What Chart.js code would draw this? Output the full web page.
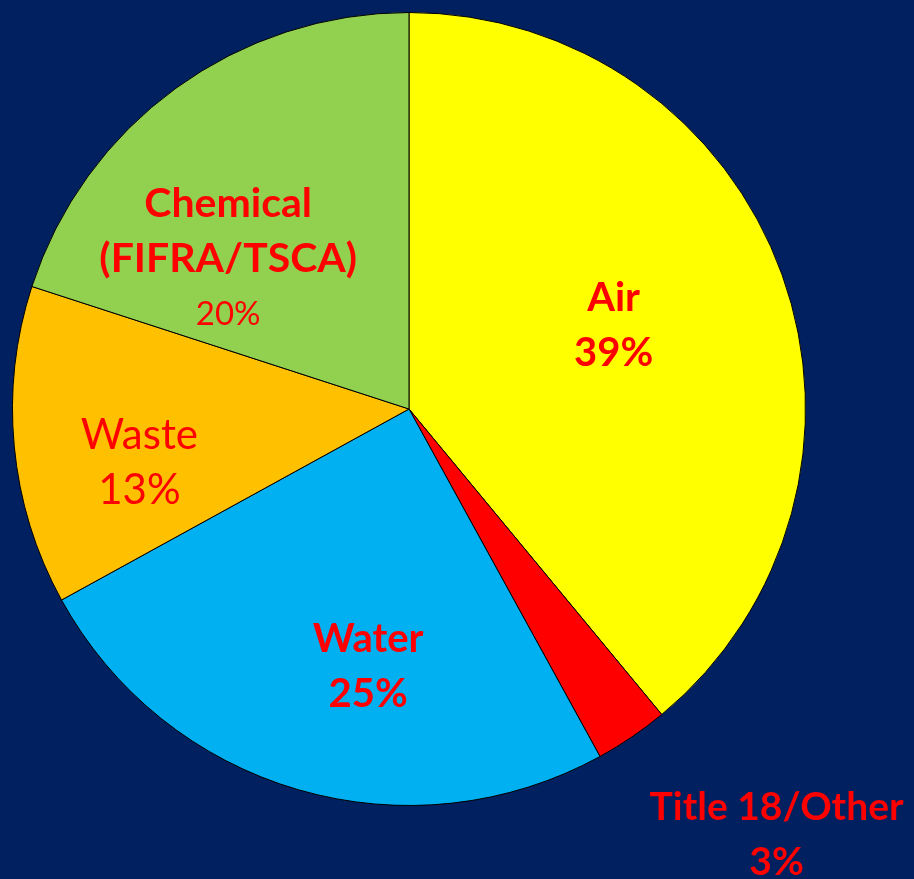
<!DOCTYPE html>
<html>
<head>
<meta charset="utf-8">
<script src="https://cdn.jsdelivr.net/npm/chart.js@4.4.0/dist/chart.umd.min.js"></script>
<style>
  html, body { margin: 0; padding: 0; background: #002060; }
  #wrap { width: 914px; height: 879px; }
</style>
</head>
<body>
<div id="wrap"><canvas id="pieChart"></canvas></div>
<script>
// Slice data, clockwise from 12 o'clock
const categories = ['Air', 'Title 18/Other', 'Water', 'Waste', 'Chemical (FIFRA/TSCA)'];
const shares = [39, 3, 25, 13, 20];
const sliceColors = ['#FFFF00', '#FF0000', '#00B0F0', '#FFC000', '#92D050'];

// Label text, one entry per line: [text, bold, size]
const labelLines = [
    [['Air', true, 40], ['39%', true, 40]],
    [['Title 18/Other', true, 39], ['3%', true, 39]],
    [['Water', true, 40], ['25%', true, 40]],
    [['Waste', false, 42], ['13%', false, 42]],
    [['Chemical', true, 41], ['(FIFRA/TSCA)', true, 41], ['20%', false, 33]]
];
// where each label sits, relative to pie centre in radius units
const labelPlace = [
    [0.516, -0.210],
    [0.927, 1.074],
    [-0.103, 0.650],
    [-0.680, 0.136],
    [-0.456, -0.378]
];

const labelPlugin = {
    id: 'sliceLabels',
    afterDatasetsDraw(chart) {
        const ctx = chart.ctx;
        const arcs = chart.getDatasetMeta(0).data;
        ctx.save();
        ctx.fillStyle = '#FF0000';
        ctx.textAlign = 'center';
        ctx.textBaseline = 'middle';
        arcs.forEach(function(arc, i) {
            const cx = arc.x + labelPlace[i][0] * arc.outerRadius;
            const cy = arc.y + labelPlace[i][1] * arc.outerRadius;
            const lines = labelLines[i];
            const lh = 55;
            let y = cy - (lines.length - 1) * lh / 2;
            lines.forEach(function(l) {
                ctx.font = (l[1] ? 'bold ' : '') + l[2] + 'px Lato, "Open Sans", sans-serif';
                ctx.fillText(l[0], cx, y);
                y += lh;
            });
        });
        ctx.restore();
    }
};

new Chart(document.getElementById('pieChart').getContext('2d'), {
    type: 'pie',
    data: {
        labels: categories,
        datasets: [{
            data: shares,
            backgroundColor: sliceColors,
            borderColor: '#000000',
            borderWidth: 1
        }]
    },
    options: {
        responsive: true,
        maintainAspectRatio: false,
        animation: false,
        layout: { padding: { left: 12, top: 12, right: 108, bottom: 73 } },
        plugins: {
            legend: { display: false },
            tooltip: { enabled: false }
        }
    },
    plugins: [labelPlugin]
});
</script>
</body>
</html>
